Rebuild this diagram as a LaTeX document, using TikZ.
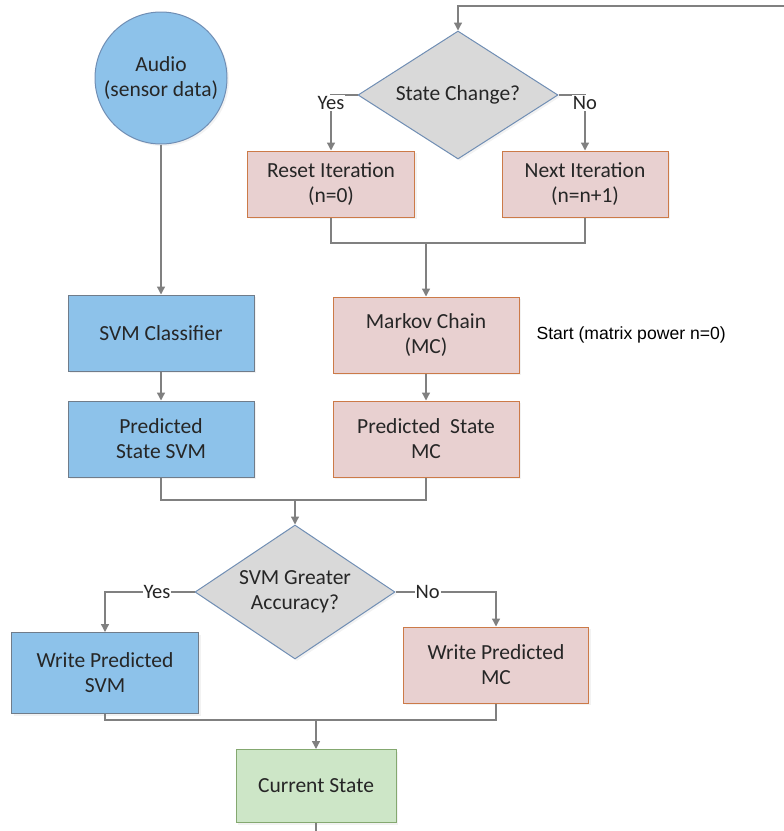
\documentclass[tikz,border=0pt]{standalone}
\usepackage{fontspec}
\setmainfont{Carlito}
\newfontfamily\arialfont{Liberation Sans}
\usetikzlibrary{shapes.geometric,arrows.meta,shadows}
\definecolor{blueFill}{RGB}{141,194,234}
\definecolor{blueDraw}{RGB}{112,124,138}
\definecolor{pinkFill}{RGB}{232,208,208}
\definecolor{pinkDraw}{RGB}{204,122,72}
\definecolor{greenFill}{RGB}{205,230,199}
\definecolor{greenDraw}{RGB}{132,168,112}
\definecolor{diaFill}{RGB}{217,217,217}
\definecolor{diaDraw}{RGB}{112,142,180}
\definecolor{lineCol}{RGB}{128,128,128}
\definecolor{txtCol}{RGB}{38,38,38}
\tikzset{
  base/.style={font=\fontsize{21.5}{25}\selectfont, text=txtCol, align=center, line width=1pt,
    drop shadow={opacity=0.1, shadow xshift=2pt, shadow yshift=-2pt}},
  bluebox/.style={base, rectangle, fill=blueFill, draw=blueDraw, minimum width=186pt, minimum height=76pt, inner sep=0pt},
  pinkbox/.style={base, rectangle, fill=pinkFill, draw=pinkDraw, minimum width=186pt, minimum height=76pt, inner sep=0pt},
  greenbox/.style={base, rectangle, fill=greenFill, draw=greenDraw, minimum width=160pt, minimum height=73pt, inner sep=0pt},
  decision/.style={base, diamond, fill=diaFill, draw=diaDraw, shape aspect=1.54, inner sep=0pt},
  startcircle/.style={base, circle, fill=blueFill, draw=diaDraw, minimum size=132pt, inner sep=0pt},
  conn/.style={draw=lineCol, line width=1.3pt},
  arr/.style={conn, -{Triangle[width=8pt,length=8pt]}},
  lbl/.style={font=\fontsize{20.5}{22}\selectfont, text=txtCol, fill=white, inner sep=1pt},
  note/.style={font=\arialfont\fontsize{17.6}{20}\selectfont, text=black}
}
\begin{document}
\begin{tikzpicture}[x=1pt,y=-1pt]
\useasboundingbox (0,0) rectangle (784,831);

\node[startcircle] (audio) at (161,78) {Audio\\(sensor data)};
\node[decision, minimum width=200pt, minimum height=128pt] (sc) at (458,95) {State Change?};
\node[pinkbox, minimum width=167pt, minimum height=66pt] (reset) at (331,184) {Reset Iteration\\(n=0)};
\node[pinkbox, minimum width=166pt, minimum height=66pt] (next) at (585,184) {Next Iteration\\(n=n+1)};
\node[bluebox] (svmc) at (161,333) {SVM Classifier};
\node[pinkbox] (mc) at (426,335) {Markov Chain\\(MC)};
\node[note, anchor=west] (start) at (533,335) {Start (matrix power n=0)};
\node[bluebox] (psvm) at (161,439) {Predicted\\State SVM};
\node[pinkbox] (pmc) at (426,439) {Predicted\ \ State\\MC};
\node[decision, minimum width=200pt, minimum height=134pt] (acc) at (295,592) {SVM Greater\\Accuracy?};
\node[bluebox, minimum width=187pt, minimum height=81pt] (wsvm) at (105,673) {Write Predicted\\SVM};
\node[pinkbox, minimum width=185pt, minimum height=76pt] (wmc) at (496,665) {Write Predicted\\MC};
\node[greenbox] (cs) at (316,786) {Current State};

\coordinate (fb) at (784,6);
\coordinate (m1) at (426,243);
\coordinate (m2) at (295,500);
\coordinate (m3) at (316,720);
\coordinate (out) at (316,831);

% feedback into State Change
\draw[arr] (fb) -| (sc.north);
% State change branches
\draw[arr] (sc.west) -| node[lbl, pos=0.5, yshift=-8pt] {Yes} (reset.north);
\draw[arr] (sc.east) -| node[lbl, pos=0.5, yshift=-8pt] {No} (next.north);
% merge into Markov chain
\draw[conn] (reset.south) |- (m1) -| (next.south);
\draw[arr] (m1) -- (mc.north);
% left column
\draw[arr] (audio.south) -- (svmc.north);
\draw[arr] (svmc.south) -- (psvm.north);
\draw[arr] (mc.south) -- (pmc.north);
% merge into accuracy decision
\draw[conn] (psvm.south) |- (m2) -| (pmc.south);
\draw[arr] (m2) -- (acc.north);
% accuracy branches
\draw[arr] (acc.west) -| node[lbl, pos=0.21] {Yes} (wsvm.north);
\draw[arr] (acc.east) -| node[lbl, pos=0.16] {No} (wmc.north);
% merge into current state
\draw[conn] (wsvm.south) |- (m3) -| (wmc.south);
\draw[arr] (m3) -- (cs.north);
\draw[conn] (cs.south) -- (out);
\end{tikzpicture}
\end{document}
